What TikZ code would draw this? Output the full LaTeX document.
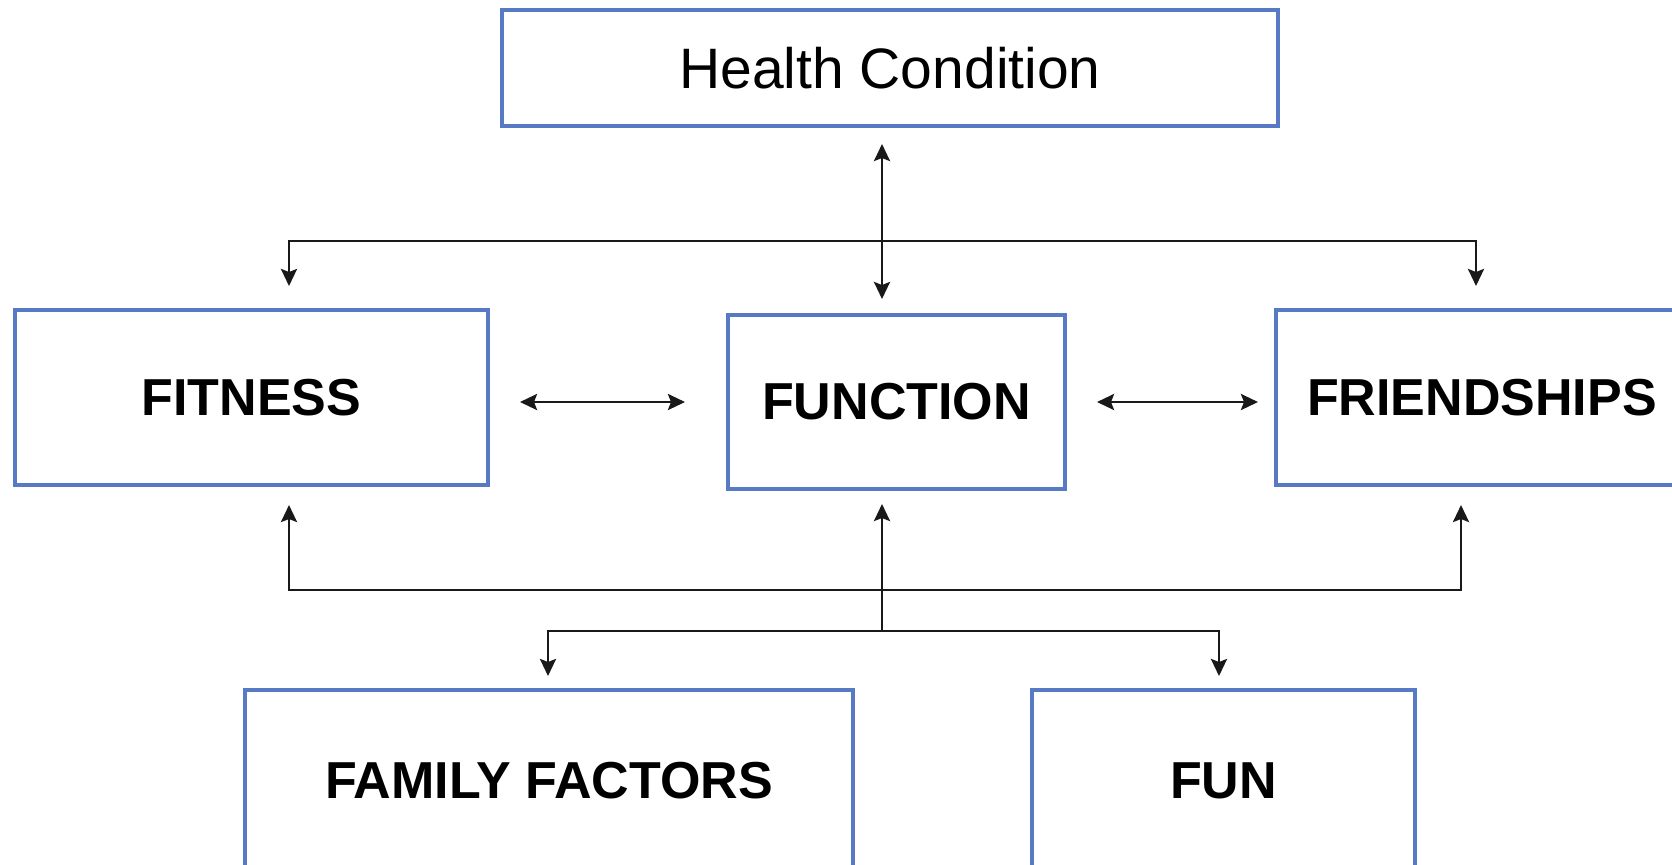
\documentclass[tikz,border=0pt]{standalone}
\usepackage{fontspec}
\setmainfont{Liberation Sans}
\usetikzlibrary{arrows.meta,calc}
\definecolor{boxblue}{RGB}{88,122,196}
\tikzset{
  x=0.5pt, y=-0.5pt,
  fbox/.style={draw=boxblue, line width=2pt, fill=white, inner sep=0pt, outer sep=0pt,
    font=\fontsize{26}{30}\selectfont\bfseries, text=black},
  tipa/.tip={Stealth[length=8.5pt,width=8pt,inset=1.5pt]},
  conn/.style={draw=black!90, line width=1.35pt, -tipa},
  conn2/.style={draw=black!90, line width=1.35pt, tipa-tipa}
}
\begin{document}
\begin{tikzpicture}
\useasboundingbox (0,0) rectangle (1672,864);
\clip (0,0) rectangle (1672,864);
\fill[white] (0,0) rectangle (1672,864);

\node[fbox, minimum width=388pt, minimum height=58pt, font=\fontsize{28.5}{32}\selectfont] (hc) at (890,68) {Health Condition};
\node[fbox, minimum width=236.5pt, minimum height=87.5pt] (fit) at (251.5,397.5) {FITNESS};
\node[fbox, minimum width=168.5pt, minimum height=87pt] (fun) at (896.5,402) {FUNCTION};
\node[fbox, minimum width=206pt, minimum height=87.5pt] (fri) at (1482,397.5) {FRIENDSHIPS};
\node[fbox, minimum width=304pt, minimum height=91pt] (fam) at (549,781) {FAMILY FACTORS};
\node[fbox, minimum width=191.5pt, minimum height=91pt] (fn) at (1223.5,781) {FUN};

% junction coordinates
\coordinate (vx) at (882,241);
\coordinate (tl) at (289,241);
\coordinate (tr) at (1476,241);
\coordinate (bx) at (882,590);
\coordinate (bl) at (289,590);
\coordinate (br) at (1461,590);
\coordinate (by) at (882,631);
\coordinate (dl) at (548,631);
\coordinate (dr) at (1219,631);

% Health condition <-> Function
\draw[conn2, shorten <=9pt, shorten >=8pt] (vx |- hc.south) -- (vx |- fun.north);
% top distribution line
\draw[conn, shorten >=12pt] (vx) -| (tl |- fit.north);
\draw[conn, shorten >=12pt] (vx) -| (tr |- fri.north);

% side arrows
\draw[conn2, shorten <=16pt, shorten >=21.5pt] (fit.east |- fun.center) -- (fun.west);
\draw[conn2, shorten <=16pt, shorten >=9pt] (fun.east) -- (fri.west |- fun.center);

% bottom feedback
\draw[conn, shorten >=10pt] (bx) -| (bl |- fit.south);
\draw[conn, shorten >=10pt] (bx) -| (br |- fri.south);
\draw[conn, shorten >=7.5pt] (by) -- (by |- fun.south);

% lower distribution
\draw[conn, shorten >=7pt] (by) -| (dl |- fam.north);
\draw[conn, shorten >=7pt] (by) -| (dr |- fn.north);
\end{tikzpicture}
\end{document}
